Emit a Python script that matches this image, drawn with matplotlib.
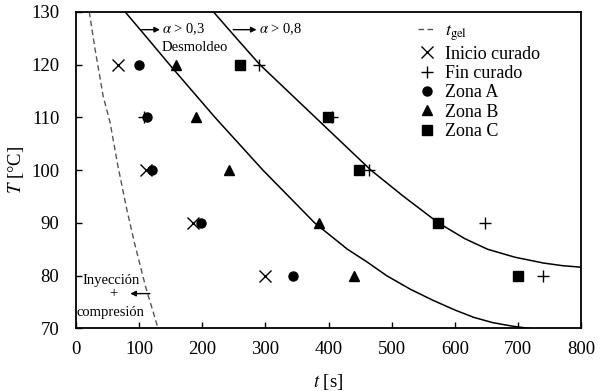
import matplotlib
matplotlib.use("Agg")
import matplotlib.pyplot as plt

plt.rcParams['font.family'] = ['Liberation Serif', 'DejaVu Serif']
plt.rcParams['mathtext.fontset'] = 'stix'

# values
# t_gel (dashed)
gel_t = [21, 30, 43, 54, 66, 80, 93, 110, 130]
gel_T = [130, 123, 114, 109, 101, 92.8, 86, 78, 70]

# alpha > 0.3 curve (desmoldeo)
a03_t = [77.6, 113, 148, 184, 220, 258, 296, 337, 378, 430, 461, 492, 530, 566, 600, 630, 660, 693, 725]
a03_T = [130, 125, 120, 115, 110, 105, 100, 95, 90, 85, 82.6, 80, 77.4, 75.3, 73.5, 72.1, 71.1, 70.4, 69.9]

# alpha > 0.8 curve
a08_t = [217.5, 254, 291, 335, 379, 423, 467, 519, 574, 616, 652, 695, 740, 770, 800]
a08_T = [130, 125, 120, 115, 110, 105, 100, 95, 90, 87, 85, 83.5, 82.4, 81.9, 81.6]

# markers
ini_t = [67, 111, 186, 300]
ini_T = [120, 100, 90, 80]

fin_t = [290, 108, 405, 464, 648, 740]
fin_T = [120, 110, 110, 100, 90, 80]

zA_t = [99, 113, 120, 198, 344]
zA_T = [120, 110, 100, 90, 80]

zB_t = [158, 190, 243, 385, 440]
zB_T = [120, 110, 100, 90, 80]

zC_t = [259, 399, 449, 574, 700]
zC_T = [120, 110, 100, 90, 80]

fig = plt.figure(figsize=(6, 3.91), dpi=100)
ax = fig.add_axes([0.1267, 0.160, 0.8417, 0.810])

ax.plot(gel_t, gel_T, color='#555555', ls=(0, (4, 2.5)), lw=1.0, label=r'$t_{\mathrm{gel}}$')
ax.plot(a03_t, a03_T, color='black', lw=1.1)
ax.plot(a08_t, a08_T, color='black', lw=1.1)

ax.plot(ini_t, ini_T, 'x', color='black', ms=8.5, mew=1.0, label='Inicio curado')
ax.plot(fin_t, fin_T, '+', color='black', ms=8.5, mew=1.0, label='Fin curado')
ax.plot(zA_t, zA_T, 'o', color='black', ms=6.5, label='Zona A')
ax.plot(zB_t, zB_T, '^', color='black', ms=7.5, label='Zona B')
ax.plot(zC_t, zC_T, 's', color='black', ms=6.8, label='Zona C')

arrow = dict(arrowstyle='-|>', color='black', lw=1, mutation_scale=8, shrinkA=0, shrinkB=0)

# annotations
ax.annotate('', xy=(133, 126.6), xytext=(104, 126.6), arrowprops=arrow)
ax.text(136, 126.6, r'$\alpha$ > 0,3', fontsize=10.5, va='center', ha='left')
ax.text(136, 123.3, 'Desmoldeo', fontsize=10.5, va='center', ha='left')
ax.annotate('', xy=(286, 126.6), xytext=(249, 126.6), arrowprops=arrow)
ax.text(290, 126.6, r'$\alpha$ > 0,8', fontsize=10.5, va='center', ha='left')

ax.text(56, 79.1, 'Inyección', fontsize=10.5, va='center', ha='center')
ax.text(59, 76.6, '+', fontsize=10.5, va='center', ha='center')
ax.annotate('', xy=(86, 76.6), xytext=(117, 76.6), arrowprops=arrow)
ax.text(55, 73.1, 'compresión', fontsize=10.5, va='center', ha='center')

ax.set_xlim(0, 800)
ax.set_ylim(70, 130)
ax.set_xticks(range(0, 801, 100))
ax.set_yticks(range(70, 131, 10))
ax.tick_params(direction='in', labelsize=13.5, length=4.5, width=1)
ax.tick_params(axis='x', pad=9)
ax.tick_params(axis='y', pad=12)
for s in ax.spines.values():
    s.set_linewidth(1.3)

ax.set_xlabel(r'$t$ [s]', fontsize=13.5, labelpad=10)
ax.set_ylabel(r'$T$ [°C]', fontsize=13.5, labelpad=4)

ax.legend(loc='upper left', bbox_to_anchor=(0.677, 0.965), frameon=False,
          fontsize=13, handlelength=1.0, handletextpad=0.5, borderpad=0,
          borderaxespad=0, labelspacing=0.13)

fig.savefig('out.png', dpi=100)
